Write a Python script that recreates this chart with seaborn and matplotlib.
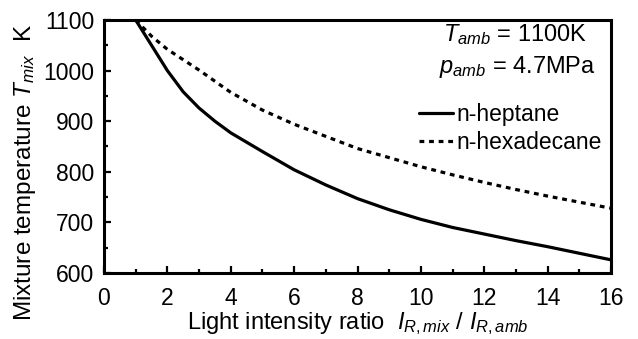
import numpy as np
import pandas as pd
import matplotlib
matplotlib.use("Agg")
import matplotlib.pyplot as plt
from matplotlib.ticker import MultipleLocator
import seaborn as sns

# data
x_heptane = [1, 1.5, 2, 2.5, 3, 3.5, 4, 5, 6, 7, 8, 9, 10, 11, 12, 13, 14, 15, 16]
T_heptane = [1100, 1050, 1000, 958, 926, 900, 877, 840, 804, 774, 747, 725, 706, 690, 677, 664, 652, 639, 626]
x_hexadecane = [1, 1.5, 2, 3, 4, 5, 6, 7, 8, 9, 10, 11, 12, 13, 14, 15, 16]
T_hexadecane = [1100, 1068, 1042, 1001, 957, 922, 894, 870, 846, 828, 810, 794, 779, 765, 752, 740, 728]
fuels = ["n-heptane", "n-hexadecane"]

df = pd.DataFrame({
    "ratio": x_heptane + x_hexadecane,
    "T": T_heptane + T_hexadecane,
    "fuel": [fuels[0]] * len(x_heptane) + [fuels[1]] * len(x_hexadecane),
})

sns.set_style("ticks")
plt.rcParams["font.family"] = ["Liberation Sans", "DejaVu Sans"]
plt.rcParams["mathtext.fontset"] = "custom"
plt.rcParams["mathtext.rm"] = "Liberation Sans"
plt.rcParams["mathtext.it"] = "Liberation Sans:italic"
plt.rcParams["mathtext.bf"] = "Liberation Sans:bold"
for key in ["text.color", "axes.labelcolor", "xtick.color", "ytick.color", "axes.edgecolor"]:
    plt.rcParams[key] = "black"

fs_tick = 16.5
fs_label = 17
fs_ylabel = 17.5
fs_leg = 16.5
fs_ann = 17

fig = plt.figure(figsize=(6.38, 3.39), dpi=100)
ax = fig.add_axes([104 / 638, (339 - 273) / 339, 507 / 638, 253 / 339])

sns.lineplot(data=df, x="ratio", y="T", style="fuel", color="black",
             dashes={fuels[0]: "", fuels[1]: (1.5, 1.5)}, linewidth=2.3,
             ax=ax, legend=True, estimator=None, sort=False)

ax.set_xlim(0, 16)
ax.set_ylim(600, 1100)
ax.xaxis.set_major_locator(MultipleLocator(2))
ax.xaxis.set_minor_locator(MultipleLocator(1))
ax.yaxis.set_major_locator(MultipleLocator(100))
ax.yaxis.set_minor_locator(MultipleLocator(50))
ax.tick_params(which="both", direction="in", width=1.6, labelsize=fs_tick, colors="black")
ax.tick_params(axis="x", which="major", pad=10)
ax.tick_params(axis="y", which="major", pad=7)
ax.tick_params(which="major", length=5)
ax.tick_params(which="minor", length=3)
for s in ax.spines.values():
    s.set_linewidth(2.2)
    s.set_color("black")

ax.set_xlabel(r"Light intensity ratio  $I_{R,mix}$ / $I_{R,amb}$", fontsize=fs_label, labelpad=0.5)
ax.set_ylabel(r"Mixture temperature $T_{mix}$  K", fontsize=fs_ylabel)
ax.yaxis.set_label_coords((38 - 104) / 507, (273 - 173) / 253)

handles, labels = ax.get_legend_handles_labels()
ax.legend(handles, labels, loc="upper left", bbox_to_anchor=(403 / 638, 1 - 87 / 339),
          bbox_transform=fig.transFigure, frameon=False, fontsize=fs_leg,
          handlelength=1.5, handletextpad=0.15, labelspacing=0.23, borderpad=0.2)

ax.text(515 / 638, 1 - 35 / 339, r"$T_{amb}$ = 1100K", transform=fig.transFigure,
        ha="center", va="center", fontsize=fs_ann)
ax.text(517 / 638, 1 - 67 / 339, r"$p_{amb}$ = 4.7MPa", transform=fig.transFigure,
        ha="center", va="center", fontsize=fs_ann)

fig.savefig("out.png", dpi=100)
